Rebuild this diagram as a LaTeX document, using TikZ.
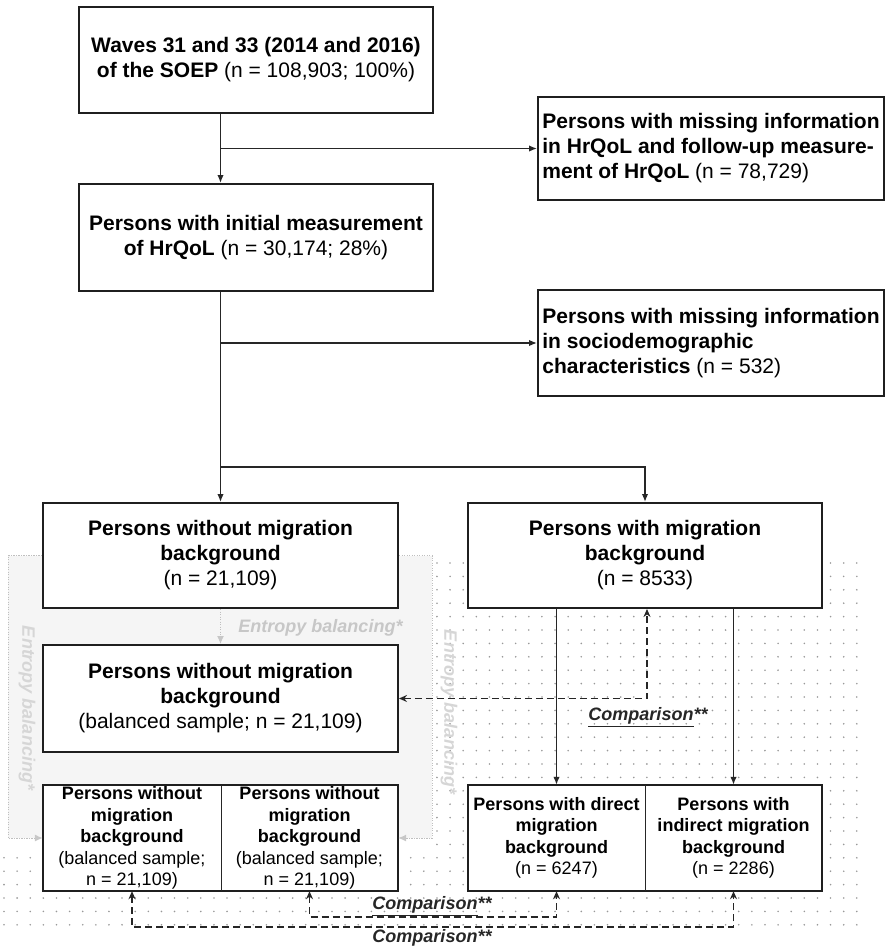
\documentclass[tikz,border=0pt]{standalone}
\usepackage{fontspec}
\setmainfont{Liberation Sans}
\usetikzlibrary{arrows.meta}
\begin{document}
\begin{tikzpicture}[x=1pt,y=-1pt,
  box/.style={draw=black!88, line width=2pt, fill=white, inner sep=0pt, align=center, font=\fontsize{21}{25}\selectfont},
  sbox/.style={fill=white, inner sep=0pt, align=center, font=\fontsize{18}{21.5}\selectfont, minimum height=106pt},
  frame/.style={draw=black!88, line width=2pt},
  conn/.style={draw=black!85, line width=1.5pt},
  arr/.style={conn, -{Latex[length=8pt,width=6.5pt]}},
  cmp/.style={draw=black!85, line width=1.7pt, dash pattern=on 7pt off 4pt, {Stealth[length=8pt,width=7pt]}-{Stealth[length=8pt,width=7pt]}},
  gline/.style={draw=black!25, line width=1pt, dash pattern=on 1.2pt off 1.3pt, -{Latex[length=8pt,width=7pt,color=black!22]}},
  cmplab/.style={inner sep=0pt, font=\fontsize{18}{20}\selectfont\bfseries\itshape, text=black!85},
  elab/.style={inner sep=0pt, font=\fontsize{18}{20}\selectfont\bfseries\itshape},
  dotc/.style={fill=black!40}
]
\useasboundingbox (0,0) rectangle (885,948);

% dotted background pattern
\begin{scope}
  \clip (435,560) rectangle (862,933) (0,847) rectangle (862,933);
  \foreach \i in {0,...,65}{\foreach \j in {0,...,28}{\fill[dotc] (4+13.12*\i,563+13.4*\j) circle (0.9pt);}}
\end{scope}

% light grey entropy-balancing area
\fill[black!4] (8,555.5) rectangle (432,838);

% boxes
\node[box, minimum width=354pt, minimum height=106pt] (b1) at (256,60)
  {\textbf{Waves 31 and 33 (2014 and 2016)}\\\textbf{of the SOEP} (n = 108,903; 100\%)};
\node[box, minimum width=354pt, minimum height=107pt] (b2) at (256,237.5)
  {\textbf{Persons with initial measurement}\\\textbf{of HrQoL} (n = 30,174; 28\%)};
\node[box, align=left, minimum width=346pt, minimum height=103pt] (r1) at (711,148.5)
  {\textbf{Persons with missing information}\\\textbf{in HrQoL and follow-up measure-}\\\textbf{ment of HrQoL} (n = 78,729)};
\node[box, align=left, minimum width=346pt, minimum height=106pt] (r2) at (711,343)
  {\textbf{Persons with missing information}\\\textbf{in sociodemographic}\\\textbf{characteristics} (n = 532)};
\node[box, minimum width=355pt, minimum height=105pt] (b3) at (220.5,555.5)
  {\textbf{Persons without migration}\\\textbf{background}\\(n = 21,109)};
\node[box, minimum width=354pt, minimum height=105pt] (b4) at (645,555.5)
  {\textbf{Persons with migration}\\\textbf{background}\\(n = 8533)};
\node[box, minimum width=355pt, minimum height=107pt] (b5) at (220.5,698.5)
  {\textbf{Persons without migration}\\\textbf{background}\\(balanced sample; n = 21,109)};

\node[sbox, minimum width=178pt] (bl1) at (132,838)
  {\textbf{Persons without}\\\textbf{migration}\\\textbf{background}\\(balanced sample;\\n = 21,109)};
\node[sbox, minimum width=177pt] (bl2) at (309.5,838)
  {\textbf{Persons without}\\\textbf{migration}\\\textbf{background}\\(balanced sample;\\n = 21,109)};
\node[sbox, minimum width=177pt] (br1) at (556.5,838)
  {\textbf{Persons with direct}\\\textbf{migration}\\\textbf{background}\\(n = 6247)};
\node[sbox, minimum width=177pt] (br2) at (733.5,838)
  {\textbf{Persons with}\\\textbf{indirect migration}\\\textbf{background}\\(n = 2286)};
\draw[frame] (bl1.north west) rectangle (bl2.south east);
\draw[frame] (br1.north west) rectangle (br2.south east);
\draw[black!85, line width=1.1pt] (bl1.north east) -- (bl1.south east);
\draw[black!85, line width=1.1pt] (br1.north east) -- (br1.south east);

% main flow
\coordinate (sp) at (220.5,467);
\coordinate (yin) at (0,917);
\coordinate (yout) at (0,927);
\draw[arr] (b1.south -| sp) -- (b2.north -| sp);
\draw[arr] (sp |- r1.west) -- (r1.west);
\draw[conn] (b2.south -| sp) -- (sp);
\draw[arr] (sp |- r2.west) -- (r2.west);
\draw[arr] (sp) -- (b3.north);
\draw[arr] (sp) -| (b4.north);
\draw[arr] (br1.north |- b4.south) -- (br1.north);
\draw[arr] (br2.north |- b4.south) -- (br2.north);

% entropy balancing (grey)
\draw[gline] (b3.south) -- (b5.north);
\draw[gline] (b3.west) -- (8,555.5) -- (8,838) -- (bl1.west);
\draw[gline] (b3.east) -- (432,555.5) -- (432,838) -- (bl2.east);
\node[elab, text=black!22] (e1) at (320.5,628) {Entropy balancing*};
\node[elab, text=black!16, rotate=-90] (e2) at (27,708) {Entropy balancing*};
\node[elab, text=black!16, rotate=-90] (e3) at (449,712) {Entropy balancing*};

% comparisons
\draw[cmp] (b5.east) -| ([xshift=2pt]b4.south);
\node[cmplab] (c1) at (648,717) {\underline{Comparison}**};
\draw[cmp] (bl2.south) -- (bl2.south |- yin) -| (br1.south);
\draw[cmp] (bl1.south) -- (bl1.south |- yout) -| (br2.south);
\node[cmplab] (c2) at (432,906) {\underline{Comparison}**};
\node[cmplab] (c3) at (432,939) {\underline{Comparison}**};
\end{tikzpicture}
\end{document}
